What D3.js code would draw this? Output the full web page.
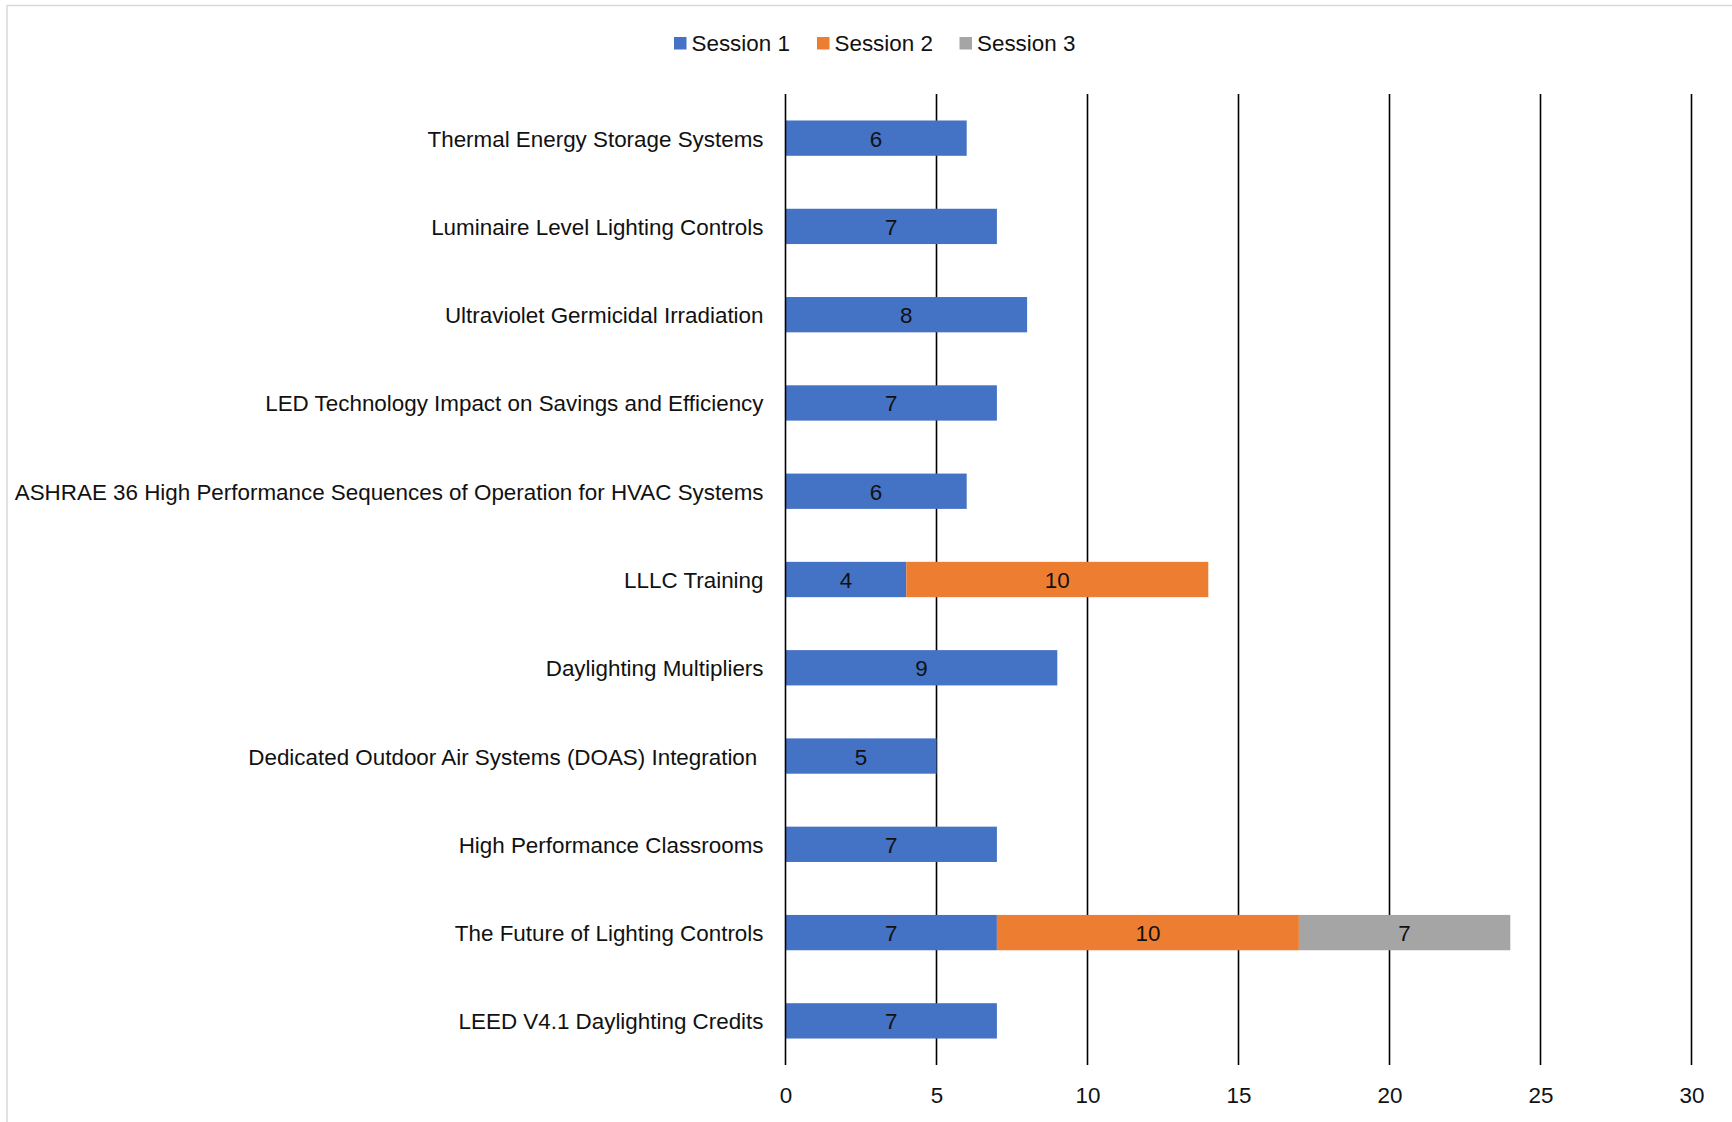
<!DOCTYPE html>
<html>
<head>
<meta charset="utf-8">
<script src="https://cdn.jsdelivr.net/npm/d3@7"></script>
<style>
  html, body { margin: 0; padding: 0; background: #fff; }
  svg { display: block; }
  text { font-family: "Liberation Sans", Arial, sans-serif; fill: #111; white-space: pre; }
</style>
</head>
<body>
<svg id="chart" width="1732" height="1122"></svg>
<script>
const categories = [
  "Thermal Energy Storage Systems",
  "Luminaire Level Lighting Controls",
  "Ultraviolet Germicidal Irradiation",
  "LED Technology Impact on Savings and Efficiency",
  "ASHRAE 36 High Performance Sequences of Operation for HVAC Systems",
  "LLLC Training",
  "Daylighting Multipliers",
  "Dedicated Outdoor Air Systems (DOAS) Integration ",
  "High Performance Classrooms",
  "The Future of Lighting Controls",
  "LEED V4.1 Daylighting Credits"
];
const session1 = [6, 7, 8, 7, 6, 4, 9, 5, 7, 7, 7];
const session2 = [0, 0, 0, 0, 0, 10, 0, 0, 0, 10, 0];
const session3 = [0, 0, 0, 0, 0, 0, 0, 0, 0, 7, 0];
const seriesNames = ["Session 1", "Session 2", "Session 3"];
const seriesColors = ["#4472C4", "#ED7D31", "#A5A5A5"];
const xTicks = [0, 5, 10, 15, 20, 25, 30];

(function () {
const svg = d3.select("#chart");
const FS = 22.4;

svg.append("rect")
  .attr("x", 7).attr("y", 5.5)
  .attr("width", 1760).attr("height", 1140)
  .attr("fill", "none").attr("stroke", "#d9d9d9").attr("stroke-width", 1.5);

const pLeft = 785.5, pRight = 1691.5, pTop = 94, pBottom = 1065;

const x = d3.scaleLinear().domain([0, 30]).range([pLeft, pRight]);
const y = d3.scaleBand().domain(categories).range([pTop, pBottom])
  .paddingInner(0.6).paddingOuter(0.3);

svg.append("g").selectAll("line").data(xTicks.filter(d => d !== 0)).join("line")
  .attr("x1", d => x(d)).attr("x2", d => x(d))
  .attr("y1", pTop).attr("y2", pBottom)
  .attr("stroke", "#000").attr("stroke-width", 1.6);

const rows = categories.map((c, i) => ({
  cat: c, "Session 1": session1[i], "Session 2": session2[i], "Session 3": session3[i]
}));
const stack = d3.stack().keys(seriesNames)(rows);

const gBars = svg.append("g");
stack.forEach((layer, si) => {
  const segs = layer.map(d => ({ x0: d[0], x1: d[1], cat: d.data.cat, v: d[1] - d[0] }))
    .filter(d => d.v > 0);
  gBars.append("g").selectAll("rect").data(segs).join("rect")
    .attr("x", d => x(d.x0))
    .attr("y", d => y(d.cat))
    .attr("width", d => x(d.x1) - x(d.x0))
    .attr("height", y.bandwidth())
    .attr("fill", seriesColors[si]);
  gBars.append("g").selectAll("text").data(segs).join("text")
    .attr("x", d => (x(d.x0) + x(d.x1)) / 2)
    .attr("y", d => y(d.cat) + y.bandwidth() / 2)
    .attr("dy", "0.38em")
    .attr("text-anchor", "middle")
    .attr("font-size", FS)
    .text(d => d.v);
});

svg.append("line")
  .attr("x1", x(0)).attr("x2", x(0)).attr("y1", pTop).attr("y2", pBottom)
  .attr("stroke", "#000").attr("stroke-width", 1.6);

const yAxis = d3.axisLeft(y).tickSize(0).tickPadding(22);
const gy = svg.append("g").attr("transform", `translate(${pLeft},0)`).call(yAxis);
gy.select(".domain").remove();
gy.selectAll("text")
  .attr("font-size", FS)
  .attr("font-family", '"Liberation Sans", Arial, sans-serif')
  .attr("fill", "#111")
  .attr("dy", "0.38em");

const xAxis = d3.axisBottom(x).tickValues(xTicks).tickSize(0).tickPadding(22);
const gx = svg.append("g").attr("transform", `translate(0,${pBottom})`).call(xAxis);
gx.select(".domain").remove();
gx.selectAll("text")
  .attr("font-size", FS)
  .attr("font-family", '"Liberation Sans", Arial, sans-serif')
  .attr("fill", "#111");

const legendX = [674, 817, 959.5];
const lg = svg.append("g");
seriesNames.forEach((s, i) => {
  lg.append("rect").attr("x", legendX[i]).attr("y", 37)
    .attr("width", 12.5).attr("height", 12.5).attr("fill", seriesColors[i]);
  lg.append("text").attr("x", legendX[i] + 17.5).attr("y", 51)
    .attr("font-size", FS).text(s);
});
})();
</script>
</body>
</html>
